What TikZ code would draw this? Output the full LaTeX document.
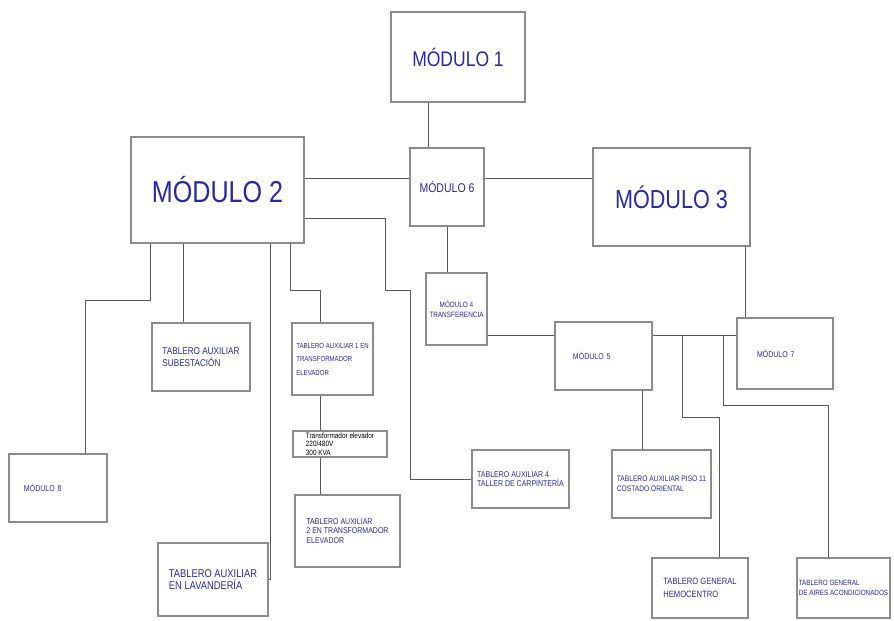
\documentclass[tikz,border=0pt]{standalone}
\usepackage{fontspec}
\setmainfont{Liberation Sans}[FakeStretch=0.83]
\usepackage{xcolor}
\usepackage{tikz}
\definecolor{modblue}{RGB}{40,40,170}
\definecolor{boxgray}{gray}{0.55}
\definecolor{wiregray}{gray}{0.35}
\newcommand{\tsz}[2]{\fontsize{#1}{#2}\selectfont}

\begin{document}
\begin{tikzpicture}[x=0.025cm,y=-0.025cm,
  every node/.style={text=modblue},
  modulo/.style={draw=boxgray,line width=0.8pt,inner sep=2pt,align=center},
  tablero/.style={draw=boxgray,line width=0.8pt,inner sep=2pt,align=left},
  wire/.style={draw=wiregray,line width=0.7pt} ]
  \fill[white] (0,0) rectangle (894,620);
  \useasboundingbox (0,0) rectangle (894,620);

  \node[modulo,minimum width=3.35cm,minimum height=2.25cm,font=\tsz{15}{18}] (m1) at (458,57) {MÓDULO 1};
  \node[modulo,minimum width=4.325cm,minimum height=2.65cm,font=\tsz{21.5}{25}] (m2) at (217.5,190) {MÓDULO 2};
  \node[modulo,minimum width=1.85cm,minimum height=1.95cm,font=\tsz{9}{11}] (m6) at (447,187) {MÓDULO 6};
  \node[modulo,minimum width=3.925cm,minimum height=2.45cm,font=\tsz{18.5}{22}] (m3) at (671.5,197) {MÓDULO 3};
  \node[modulo,minimum width=1.525cm,minimum height=1.8cm,font=\tsz{5.5}{7}] (m4) at (456.5,309) {MÓDULO 4\\TRANSFERENCIA};
  \node[tablero,minimum width=2.425cm,minimum height=1.7cm,text width=1.525cm,inner xsep=0.45cm,font=\tsz{6}{7}] (m5) at (603.5,356) {MÓDULO 5};
  \node[tablero,minimum width=2.4cm,minimum height=1.775cm,text width=1.4cm,inner xsep=0.5cm,font=\tsz{6}{7}] (m7) at (785,353.5) {MÓDULO 7};
  \node[tablero,minimum width=2.45cm,minimum height=1.7cm,text width=1.7cm,inner xsep=0.375cm,font=\tsz{6}{7}] (m8) at (58,488) {MÓDULO 8};

  \node[tablero,minimum width=2.45cm,minimum height=1.7cm,font=\tsz{7}{8.5}] (tsub) at (201,357) {TABLERO AUXILIAR\\SUBESTACIÓN};
  \node[tablero,minimum width=2.025cm,minimum height=1.8cm,font=\tsz{5.2}{9.6}] (t1) at (332.5,359) {TABLERO AUXILIAR 1 EN\\TRANSFORMADOR\\ ELEVADOR};
  \node[tablero,minimum width=2.35cm,minimum height=0.65cm,inner ysep=0.5pt,text=black,font=\tsz{5.5}{6}] (trafo) at (340,444) {Transformador elevador\\220/480V\\300 KVA};
  \node[tablero,minimum width=2.625cm,minimum height=1.8cm,font=\tsz{6}{6.8}] (t2) at (347.5,531) {TABLERO AUXILIAR\\2 EN TRANSFORMADOR\\ELEVADOR};
  \node[tablero,minimum width=2.425cm,minimum height=1.45cm,font=\tsz{6}{6.5}] (t4) at (520.5,479) {TABLERO AUXILIAR 4\\TALLER DE CARPINTERÍA};
  \node[tablero,minimum width=2.75cm,minimum height=1.825cm,font=\tsz{8}{8.5}] (tlav) at (213,579.5) {TABLERO AUXILIAR\\EN LAVANDERÍA};
  \node[tablero,minimum width=2.475cm,minimum height=1.7cm,font=\tsz{5.7}{7}] (tp11) at (661.5,484) {TABLERO AUXILIAR PISO 11\\COSTADO ORIENTAL};
  \node[tablero,minimum width=2.4cm,minimum height=1.5cm,font=\tsz{6.5}{9}] (themo) at (700,588) {TABLERO GENERAL\\HEMOCENTRO};
  \node[tablero,minimum width=2.325cm,minimum height=1.5cm,inner xsep=0pt,font=\tsz{5.4}{7}] (taires) at (843.5,588) {TABLERO GENERAL\\DE AIRES ACONDICIONADOS};

  \coordinate (c1) at (428,125);
  \coordinate (c2) at (350,178);
  \coordinate (c3) at (520,335);
  \coordinate (c4) at (745,280);
  \coordinate (c5) at (642,420);
  \coordinate (h1) at (682,335); \coordinate (h2) at (719,417);
  \coordinate (a1) at (723,335); \coordinate (a2) at (828,405);
  \coordinate (l1) at (150,300); \coordinate (l2) at (85,300);
  \coordinate (l3) at (183,280);
  \coordinate (l4) at (270,400);
  \coordinate (l5) at (290,290); \coordinate (l6) at (320,290);
  \coordinate (l7) at (385,218); \coordinate (l8) at (410,290);

  \draw[wire] (m1.south -| c1) -- (m6.north -| c1);
  \draw[wire] (m2.east |- c2) -- (m6.west |- c2);
  \draw[wire] (m6.east |- c2) -- (m3.west |- c2);
  \draw[wire] (m6.south) -- (m4.north -| m6.south);
  \draw[wire] (m4.east |- c3) -- (m5.west |- c3);
  \draw[wire] (m5.east |- c3) -- (m7.west |- c3);
  \draw[wire] (m3.south -| c4) -- (m7.north -| c4);
  \draw[wire] (m5.south -| c5) -- (tp11.north -| c5);
  \draw[wire] (h1) |- (h2) -- (themo.north -| h2);
  \draw[wire] (a1) |- (a2) -- (taires.north -| a2);
  \draw[wire] (m2.south -| l1) |- (l2) -- (m8.north -| l2);
  \draw[wire] (m2.south -| l3) -- (tsub.north -| l3);
  \draw[wire] (m2.south -| l4) |- (tlav.east);
  \draw[wire] (m2.south -| l5) |- (l6) -- (t1.north -| l6);
  \draw[wire] (t1.south -| l6) -- (trafo.north -| l6);
  \draw[wire] (trafo.south -| l6) -- (t2.north -| l6);
  \draw[wire] (m2.east |- l7) -- (l7) |- (l8) |- (t4.west);
\end{tikzpicture}
\end{document}
